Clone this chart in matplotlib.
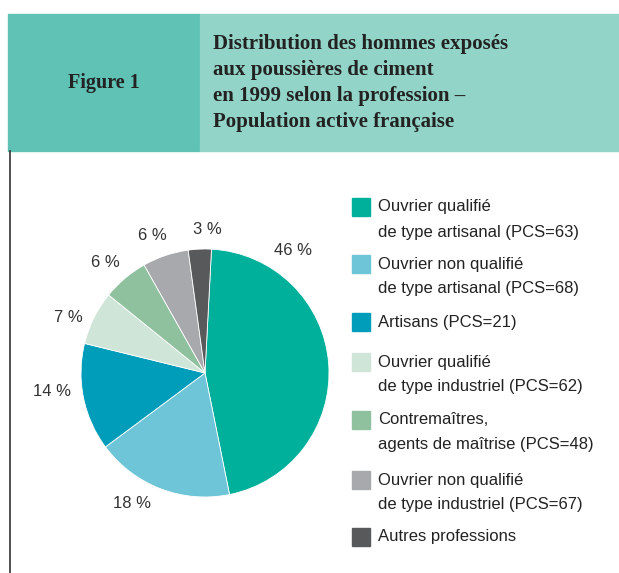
import matplotlib.pyplot as plt
from matplotlib.patches import Rectangle

W, H = 619, 573

# data
categories = [
    "Ouvrier qualifié\nde type artisanal (PCS=63)",
    "Ouvrier non qualifié\nde type artisanal (PCS=68)",
    "Artisans (PCS=21)",
    "Ouvrier qualifié\nde type industriel (PCS=62)",
    "Contremaîtres,\nagents de maîtrise (PCS=48)",
    "Ouvrier non qualifié\nde type industriel (PCS=67)",
    "Autres professions",
]
values = [46, 18, 14, 7, 6, 6, 3]
colors = ["#00b09b", "#6ec5d7", "#009dba", "#cfe5d8", "#8fc19f", "#a7a9ad", "#58595b"]

# label positions in pixels (x, y from top)
label_pos = [(293, 250), (132, 503), (52, 392), (68, 318), (105, 262), (152, 235), (207, 229)]
legend_y = [207, 264, 322, 362, 420, 480, 537]

fig = plt.figure(figsize=(W / 100, H / 100), dpi=100)


def px(x, y):
    return x / W, 1 - y / H


# header boxes
fig.patches.append(Rectangle(px(8, 151), 192 / W, 137 / H, transform=fig.transFigure,
                             color="#5fc2b5", zorder=0))
fig.patches.append(Rectangle(px(200, 151), 419 / W, 137 / H, transform=fig.transFigure,
                             color="#93d4c8", zorder=0))
fig.add_artist(plt.Line2D([10 / W, 10 / W], [0, 1 - 151 / H], transform=fig.transFigure,
                          color="#333333", lw=1.2))

serif = "Liberation Serif"
fig.text(*px(104, 83), "Figure 1", ha="center", va="center", fontsize=14.5,
         fontweight="bold", family=serif, color="#222222")
title = ["Distribution des hommes exposés", "aux poussières de ciment",
         "en 1999 selon la profession –", "Population active française"]
for i, line in enumerate(title):
    fig.text(*px(213, 44 + i * 26), line, ha="left", va="center", fontsize=15,
             fontweight="bold", family=serif, color="#222222")

# pie
r = 124
cx, cy = 205, 373
ax = fig.add_axes([(cx - r) / W, (H - cy - r) / H, 2 * r / W, 2 * r / H])
ax.pie(values, colors=colors, startangle=87, counterclock=False,
       wedgeprops=dict(linewidth=0.6, edgecolor="white"))
ax.set_xlim(-1, 1)
ax.set_ylim(-1, 1)
ax.set_aspect("equal")
ax.axis("off")

sans = ["Liberation Sans Narrow", "Liberation Sans", "DejaVu Sans"]
for (x, y), v in zip(label_pos, values):
    fig.text(*px(x, y), f"{v} %", ha="center", va="center", fontsize=12,
             family=sans, color="#333333")

# legend
for y, cat, c in zip(legend_y, categories, colors):
    fig.patches.append(Rectangle(px(352, y + 9), 18 / W, 18 / H,
                                 transform=fig.transFigure, color=c))
    for j, line in enumerate(cat.split("\n")):
        fig.text(*px(378, y + j * 25), line, ha="left", va="center", fontsize=12,
                 family=sans, color="#222222")

fig.savefig("out.png", dpi=100, facecolor="white")
